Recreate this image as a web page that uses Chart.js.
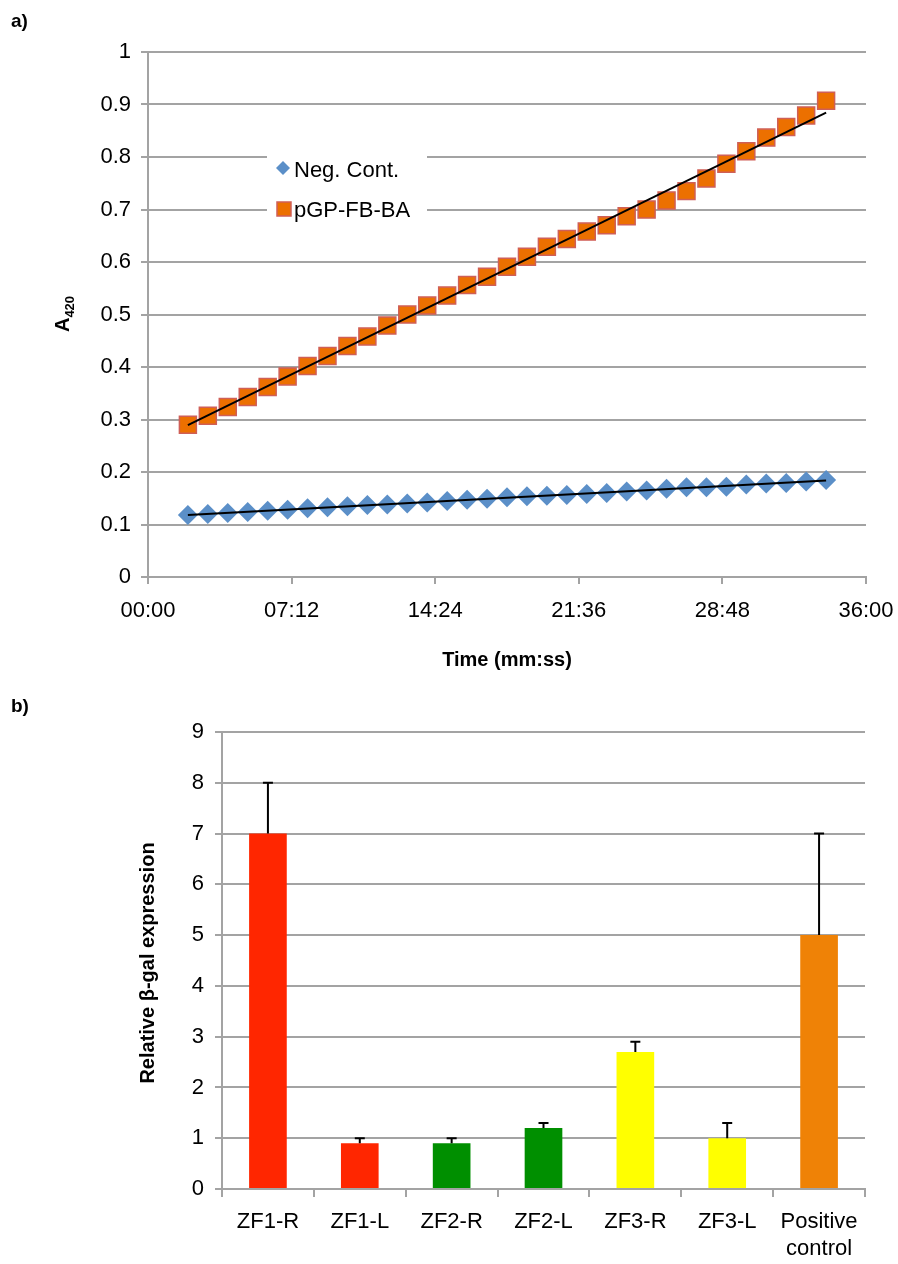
<!DOCTYPE html>
<html>
<head>
<meta charset="utf-8">
<script src="https://cdn.jsdelivr.net/npm/chart.js@4.4.1/dist/chart.umd.min.js"></script>
<style>
  body { margin: 0; background: #fff; font-family: "Liberation Sans", Arial, sans-serif; }
  .wrap { position: relative; width: 898px; height: 1264px; overflow: hidden; }
  canvas { position: absolute; left: 0; }
  .panel-label { position: absolute; left: 11px; font-weight: bold; font-size: 19px; color: #000; }
</style>
</head>
<body>
<div class="wrap">
  <canvas id="chart-a" width="898" height="690" style="top:0"></canvas>
  <canvas id="chart-b" width="898" height="574" style="top:690px"></canvas>
  <div class="panel-label" style="top:10px">a)</div>
  <div class="panel-label" style="top:695px">b)</div>
</div>
<script>
// panel a - absorbance over time (minutes)
const timeMinutes = [2, 3, 4, 5, 6, 7, 8, 9, 10, 11, 12, 13, 14, 15, 16, 17, 18,
  19, 20, 21, 22, 23, 24, 25, 26, 27, 28, 29, 30, 31, 32, 33, 34];
const negCont = [0.118, 0.120, 0.122, 0.124, 0.126, 0.128, 0.131, 0.133, 0.135, 0.137, 0.138,
  0.140, 0.142, 0.145, 0.147, 0.149, 0.152, 0.154, 0.155, 0.156, 0.158, 0.160, 0.163, 0.165,
  0.168, 0.171, 0.171, 0.172, 0.176, 0.178, 0.179, 0.182, 0.185];
const pgpFbBa = [0.290, 0.307, 0.324, 0.343, 0.362, 0.382, 0.402, 0.421, 0.440, 0.458, 0.479,
  0.500, 0.517, 0.536, 0.556, 0.572, 0.591, 0.610, 0.629, 0.644, 0.658, 0.670, 0.687, 0.700,
  0.717, 0.735, 0.759, 0.787, 0.811, 0.837, 0.857, 0.879, 0.907];
const timeTicks = [0, 7.2, 14.4, 21.6, 28.8, 36];
const timeTickLabels = ['00:00', '07:12', '14:24', '21:36', '28:48', '36:00'];

// panel b - relative beta-gal expression
const constructs = ['ZF1-R', 'ZF1-L', 'ZF2-R', 'ZF2-L', 'ZF3-R', 'ZF3-L', ['Positive', 'control']];
const expression = [7.0, 0.9, 0.9, 1.2, 2.7, 1.0, 5.0];
const expressionErr = [1.0, 0.1, 0.1, 0.1, 0.2, 0.3, 2.0];
const barColors = ['#ff2600', '#ff2600', '#008f00', '#008f00', '#ffff00', '#ffff00', '#ef8206'];

const FONT = '"Liberation Sans", Arial, sans-serif';
const GRID = '#a3a3a3';

// least squares line, only the two end points
function trendLine(xs, ys) {
  const n = xs.length;
  const mx = xs.reduce((s, v) => s + v, 0) / n;
  const my = ys.reduce((s, v) => s + v, 0) / n;
  let sxy = 0, sxx = 0;
  for (let i = 0; i < n; i++) {
    sxy += (xs[i] - mx) * (ys[i] - my);
    sxx += (xs[i] - mx) * (xs[i] - mx);
  }
  const b = sxy / sxx, a = my - b * mx;
  return [{ x: xs[0], y: a + b * xs[0] }, { x: xs[n - 1], y: a + b * xs[n - 1] }];
}

const toPoints = ys => ys.map((y, i) => ({ x: timeMinutes[i], y: y }));

// legend inside the plot, with white box over the grid
const legendA = {
  id: 'legendA',
  beforeDatasetsDraw(chart) {
    const ctx = chart.ctx;
    ctx.save();
    ctx.fillStyle = '#fff';
    ctx.fillRect(267, 140, 160, 88);
    // diamond
    ctx.fillStyle = '#5b8fc8';
    ctx.beginPath();
    ctx.moveTo(283, 161); ctx.lineTo(290, 168); ctx.lineTo(283, 175); ctx.lineTo(276, 168);
    ctx.closePath(); ctx.fill();
    // square
    ctx.fillStyle = '#ec7000';
    ctx.strokeStyle = '#cf5f57';
    ctx.lineWidth = 1.5;
    ctx.fillRect(277, 202, 14, 14);
    ctx.strokeRect(277, 202, 14, 14);
    ctx.fillStyle = '#000';
    ctx.font = '22px ' + FONT;
    ctx.textBaseline = 'alphabetic';
    ctx.fillText('Neg. Cont.', 294, 177);
    ctx.fillText('pGP-FB-BA', 294, 217);
    ctx.restore();
  }
};

const titlesA = {
  id: 'titlesA',
  afterDraw(chart) {
    const ctx = chart.ctx;
    ctx.save();
    ctx.fillStyle = '#000';
    ctx.font = 'bold 20px ' + FONT;
    ctx.textAlign = 'center';
    ctx.textBaseline = 'middle';
    ctx.fillText('Time (mm:ss)', 507, 660);
    // A420 with subscript
    ctx.translate(69, 314);
    ctx.rotate(-Math.PI / 2);
    ctx.textAlign = 'left';
    ctx.textBaseline = 'alphabetic';
    ctx.font = 'bold 20px ' + FONT;
    const wA = ctx.measureText('A').width;
    ctx.font = 'bold 13px ' + FONT;
    const wSub = ctx.measureText('420').width;
    const start = -(wA + wSub) / 2;
    ctx.font = 'bold 20px ' + FONT;
    ctx.fillText('A', start, 0);
    ctx.font = 'bold 13px ' + FONT;
    ctx.fillText('420', start + wA, 5);
    ctx.restore();
  }
};

new Chart(document.getElementById('chart-a'), {
  type: 'scatter',
  data: {
    datasets: [
      {
        label: 'Neg. Cont.',
        data: toPoints(negCont),
        pointStyle: 'rectRot',
        pointRadius: 10,
        backgroundColor: '#5b8fc8',
        borderColor: '#5b8fc8',
        borderWidth: 0
      },
      {
        label: 'pGP-FB-BA',
        data: toPoints(pgpFbBa),
        pointStyle: 'rect',
        pointRadius: 12,
        backgroundColor: '#ec7000',
        borderColor: '#cf5f57',
        borderWidth: 1.5
      },
      {
        data: trendLine(timeMinutes, negCont),
        showLine: true, pointRadius: 0, borderColor: '#000', borderWidth: 2, order: -1
      },
      {
        data: trendLine(timeMinutes, pgpFbBa),
        showLine: true, pointRadius: 0, borderColor: '#000', borderWidth: 2, order: -1
      }
    ]
  },
  options: {
    responsive: false,
    animation: false,
    layout: { padding: { left: 0, top: 52, right: 32, bottom: 0 } },
    plugins: { legend: { display: false }, tooltip: { enabled: false } },
    scales: {
      x: {
        type: 'linear', min: 0, max: 36,
        afterBuildTicks: s => { s.ticks = timeTicks.map(v => ({ value: v })); },
        afterFit: s => { s.height = 113; s.paddingLeft = 0; s.paddingRight = 0; },
        ticks: {
          callback: (v, i) => timeTickLabels[i],
          font: { family: FONT, size: 22 }, color: '#000', padding: 14, maxRotation: 0
        },
        grid: { drawOnChartArea: false, tickLength: 7, color: GRID, lineWidth: 2 },
        border: { color: GRID, width: 2 }
      },
      y: {
        min: 0, max: 1,
        afterFit: s => { s.width = 148; },
        ticks: {
          stepSize: 0.1,
          callback: v => Number(v.toFixed(1)).toString(),
          font: { family: FONT, size: 22 }, color: '#000', padding: 10
        },
        grid: { tickLength: 7, color: GRID, lineWidth: 2 },
        border: { color: GRID, width: 2 }
      }
    }
  },
  plugins: [legendA, titlesA]
});

// error bars, upper side only
const errorBars = {
  id: 'errorBars',
  afterDatasetsDraw(chart) {
    const meta = chart.getDatasetMeta(0);
    const yScale = chart.scales.y;
    const ctx = chart.ctx;
    ctx.save();
    ctx.strokeStyle = '#000';
    ctx.lineWidth = 2;
    meta.data.forEach((bar, i) => {
      const top = yScale.getPixelForValue(expression[i] + expressionErr[i]);
      ctx.beginPath();
      ctx.moveTo(bar.x, bar.y);
      ctx.lineTo(bar.x, top);
      ctx.moveTo(bar.x - 5, top);
      ctx.lineTo(bar.x + 5, top);
      ctx.stroke();
    });
    ctx.restore();
  }
};

const titlesB = {
  id: 'titlesB',
  afterDraw(chart) {
    const ctx = chart.ctx;
    ctx.save();
    ctx.fillStyle = '#000';
    ctx.font = 'bold 20px ' + FONT;
    ctx.textAlign = 'center';
    ctx.textBaseline = 'middle';
    ctx.translate(148, 273);
    ctx.rotate(-Math.PI / 2);
    ctx.fillText('Relative β-gal expression', 0, 0);
    ctx.restore();
  }
};

new Chart(document.getElementById('chart-b'), {
  type: 'bar',
  data: {
    labels: constructs,
    datasets: [{
      data: expression,
      backgroundColor: barColors,
      borderWidth: 0,
      barPercentage: 0.41,
      categoryPercentage: 1
    }]
  },
  options: {
    responsive: false,
    animation: false,
    layout: { padding: { left: 0, top: 42, right: 33, bottom: 0 } },
    plugins: { legend: { display: false }, tooltip: { enabled: false } },
    scales: {
      x: {
        afterFit: s => { s.height = 75; },
        ticks: { font: { family: FONT, size: 22 }, color: '#000', padding: 12, maxRotation: 0, autoSkip: false },
        grid: { drawOnChartArea: false, offset: true, tickLength: 8, color: GRID, lineWidth: 2 },
        border: { color: GRID, width: 2 }
      },
      y: {
        min: 0, max: 9,
        afterFit: s => { s.width = 222; },
        ticks: { stepSize: 1, font: { family: FONT, size: 22 }, color: '#000', padding: 11 },
        grid: { tickLength: 7, color: GRID, lineWidth: 2 },
        border: { color: GRID, width: 2 }
      }
    }
  },
  plugins: [errorBars, titlesB]
});
</script>
</body>
</html>
